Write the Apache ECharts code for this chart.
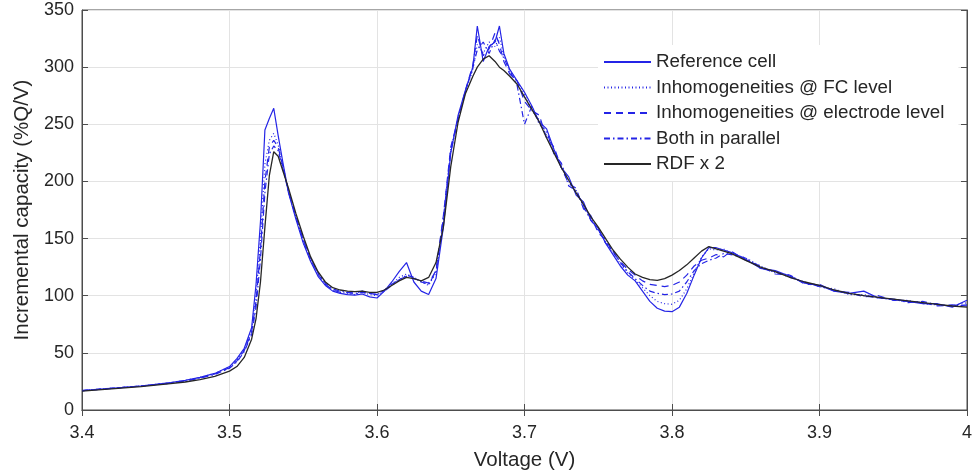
<!DOCTYPE html>
<html>
<head>
<meta charset="utf-8">
<script src="https://cdn.jsdelivr.net/npm/echarts@6/dist/echarts.min.js"></script>
<style>html,body{margin:0;padding:0;background:#fff}#c{width:980px;height:476px}</style>
</head>
<body>
<div id="c"></div>
<script>
const voltage = [
  3.40,3.42,3.44,3.46,3.47,3.48,3.49,3.50,
  3.505,3.51,3.515,3.518,3.521,3.524,3.527,3.530,3.533,3.536,3.540,
  3.545,3.550,3.555,3.560,3.565,3.570,3.575,3.580,3.585,3.590,3.595,3.600,3.605,3.610,3.615,3.620,3.625,3.630,3.635,3.640,3.645,3.650,3.655,3.660,3.665,
  3.668,3.672,3.676,3.680,3.683,3.686,3.690,
  3.695,3.700,3.705,3.710,3.715,3.720,3.725,3.730,3.735,3.740,3.745,3.750,3.755,3.760,3.765,3.770,3.775,3.780,3.785,3.790,3.795,3.800,3.805,3.810,3.815,3.820,3.825,3.830,3.835,3.840,
  3.85,3.86,3.87,3.88,3.89,3.90,3.91,3.92,3.93,3.94,3.95,3.96,3.97,3.98,3.99,4.00
];
const referenceCell = [
  17,19,21,24,26,28.5,32,38,
  45,54,72,110,165,245,255,264,240,218,190,
  167,146,130,117,109,104,102,101,100.5,101.5,99,98,104,112,121,129,112,104,101,115,160,225,258,280,300,
  336,305,318,322,336,312,298,
  288,278,266,252,246,228,212,204,188,182,166,159,146,136,126,118,113,104,95,89,86.5,86,90,102,118,133,142,142,140,138,
  132,124,122,117,111,109,104,102,104,98,97,95,93,93,90,96
];
const fcLevel = [
  17,19,21,24,26,28.5,32,37.5,
  44,53,70,100,150,215,236,242,232,215,191,
  168,147,131,118,110,105,103,102,101,103,101,100,104,110,116,119,116,112,109,120,165,228,256,278,298,
  320,312,322,318,326,310,296,
  287,276,262,254,240,227,214,200,191,179,168,157,148,137,128,120,114,107,100,95,93,92.5,96,106,120,134,141,140,141,137,
  133,126,120,118,111,108,106,101,101,99,96,96,93,92,91,94
];
const electrodeLevel = [
  17,19,21,23.5,25.5,28,31.5,37,
  43,52,68,95,140,200,230,236,230,214,192,
  169,149,132,119,110,105,103,103,102,104,102,101,105,110,114,117,115,113,111,122,170,230,255,280,302,
  328,310,316,330,320,305,294,
  288,270,262,258,238,230,212,198,194,176,170,155,149,138,130,123,118,113,110,109,108,109,112,118,126,131,133,136,134,139,
  131,126,119,118,110,110,104,103,99,100,96,95,94,91,92,91
];
const bothParallel = [
  17,19,21,23.5,25.5,28,31,36.5,
  42,51,66,90,132,190,224,231,227,212,191,
  169,149,133,120,111,106,104,103,102,103,102,101,104,109,114,118,116,112,110,121,168,226,254,279,300,
  315,322,312,324,314,308,297,
  284,250,266,250,244,224,216,196,192,178,166,158,146,139,129,121,115,109,104,102,101,101.5,104,112,122,128,131,133,137,136,
  133,124,121,116,112,108,105,102,100,98,97,94,95,92,91,92
];
const rdfX2 = [
  16.5,18.5,20.5,23,24.5,26.5,29.5,34,
  38,46,62,80,112,160,205,226,222,210,194,
  172,152,134,121,112,107,105,104,103.5,104,103,103,105,109,113,116,115,113,116,129,160,213,252,277,292,
  300,307,310,305,300,297,292,
  285,274,263,252,238,225,212,201,190,180,169,160,150,140,132,125,119,116,114,113.5,115,118,122,127,133,139,143,141,139,137,
  131,125,121,116,112,109,105,102,100,98.5,97,95.5,94,92.5,91,90
];
const xTicks = [3.4,3.5,3.6,3.7,3.8,3.9,4.0];
const yTicks = [0,50,100,150,200,250,300,350];

const FONT = '"Liberation Sans", Arial, sans-serif';
const BLUE = '#2424e6';
function pairs(arr){ return voltage.map((v,i)=>[v,arr[i]]); }
const seriesDefs = [
  {name:'Reference cell', data:referenceCell, color:BLUE, type:'solid', w:1.2},
  {name:'Inhomogeneities @ FC level', data:fcLevel, color:BLUE, type:[1,2.5], w:1.2},
  {name:'Inhomogeneities @ electrode level', data:electrodeLevel, color:BLUE, type:[7,5], w:1.2},
  {name:'Both in parallel', data:bothParallel, color:BLUE, type:[6,3,1.5,3], w:1.2},
  {name:'RDF x 2', data:rdfX2, color:'#262626', type:'solid', w:1.3}
];
const axisCommon = {
  axisLine:{show:true, lineStyle:{color:'#4d4d4d', width:1}},
  axisTick:{show:true, inside:true, length:6, lineStyle:{color:'#4d4d4d'}},
};
const chart = echarts.init(document.getElementById('c'));
chart.setOption({
  animation:false,
  backgroundColor:'#fff',
  grid:{left:82, right:13, top:10, bottom:64, show:true, borderColor:'#4d4d4d', borderWidth:1, containLabel:false},
  legend:{
    orient:'vertical', left:598, top:45,
    padding:[7,14,7,5], backgroundColor:'#fff',
    itemWidth:47, itemHeight:14, itemGap:5.5,
    itemStyle:{opacity:0},
    textStyle:{fontFamily:FONT, fontSize:18.8, color:'#262626', lineHeight:20},
    data:seriesDefs.map(s=>s.name)
  },
  xAxis:[{
    type:'value', min:3.4, max:4.0, interval:0.1,
    name:'Voltage (V)', nameLocation:'middle', nameGap:40,
    nameTextStyle:{fontFamily:FONT, fontSize:20.5, color:'#262626'},
    axisLabel:{fontFamily:FONT, fontSize:18, color:'#262626', margin:14,
      formatter:v=>{const t=xTicks.find(x=>Math.abs(x-v)<1e-6); return t===undefined?'':String(t);}},
    splitLine:{show:true, lineStyle:{color:'#e3e3e3', width:1}},
    ...axisCommon
  },{
    type:'value', min:3.4, max:4.0, interval:0.1, position:'top',
    axisLabel:{show:false}, splitLine:{show:false}, ...axisCommon
  }],
  yAxis:[{
    type:'value', min:0, max:350, interval:50,
    name:'Incremental capacity (%Q/V)', nameLocation:'middle', nameGap:46,
    nameTextStyle:{fontFamily:FONT, fontSize:20.5, color:'#262626'},
    axisLabel:{fontFamily:FONT, fontSize:18, color:'#262626', margin:8,
      formatter:v=>{const t=yTicks.find(x=>Math.abs(x-v)<1e-6); return t===undefined?'':String(t);}},
    splitLine:{show:true, lineStyle:{color:'#e3e3e3', width:1}},
    ...axisCommon
  },{
    type:'value', min:0, max:350, interval:50, position:'right',
    axisLabel:{show:false}, splitLine:{show:false}, ...axisCommon
  }],
  series:seriesDefs.map(s=>({
    name:s.name, type:'line', data:pairs(s.data), xAxisIndex:0, yAxisIndex:0,
    symbol:'none', showSymbol:false, smooth:false,
    lineStyle:{color:s.color, width:s.w, type:s.type},
    itemStyle:{color:s.color},
    emphasis:{disabled:true}
  }))
});
</script>
</body>
</html>
